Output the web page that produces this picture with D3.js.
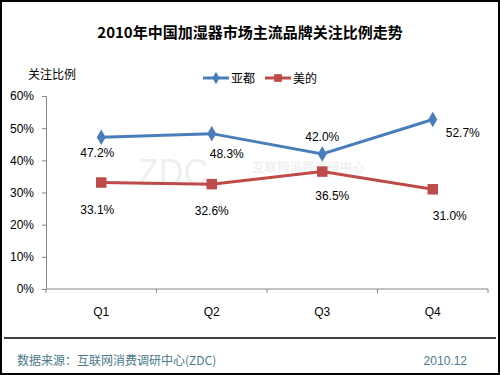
<!DOCTYPE html>
<html>
<head>
<meta charset="utf-8">
<script src="https://cdn.jsdelivr.net/npm/d3@7"></script>
<style>
  body { margin: 0; background: #fff; }
  svg { display: block; font-family: "Liberation Sans", Arial, "Noto Sans CJK SC", sans-serif; }
</style>
</head>
<body>
<div id="chart"></div>
<script>
// quarters and share of attention per brand (fraction)
const quarters = ["Q1", "Q2", "Q3", "Q4"];
const yadu = [0.472, 0.483, 0.420, 0.527];
const midea = [0.331, 0.326, 0.365, 0.310];
const seriesNames = ["亚都", "美的"];
const yTicks = [0, 0.1, 0.2, 0.3, 0.4, 0.5, 0.6];

const W = 500, H = 375;
const margin = { left: 46, right: 12, top: 96, bottom: 86 };

const svg = d3.select("#chart").append("svg").attr("width", W).attr("height", H);

svg.append("rect").attr("x", 1).attr("y", 1).attr("width", W - 2).attr("height", H - 2)
  .attr("fill", "#fff").attr("stroke", "#000").attr("stroke-width", 2);

svg.append("text").attr("x", 250).attr("y", 38).attr("text-anchor", "middle")
  .attr("font-size", 15).attr("font-weight", "bold")
  .attr("font-family", "'Noto Sans CJK SC', sans-serif")
  .text("2010年中国加湿器市场主流品牌关注比例走势");

const x = d3.scalePoint().domain(quarters).range([margin.left, W - margin.right]).padding(0.5);
const xBand = d3.scaleBand().domain(quarters).range([margin.left, W - margin.right]);
const y = d3.scaleLinear().domain([0, 0.6]).range([H - margin.bottom, margin.top]);

// faint watermark
svg.append("text").attr("x", 138).attr("y", 185).attr("font-size", 36)
  .attr("textLength", 70).attr("lengthAdjust", "spacingAndGlyphs")
  .attr("fill", "#000").attr("opacity", 0.06).attr("font-family", "'Liberation Sans', sans-serif")
  .text("ZDC");
svg.append("text").attr("x", 252).attr("y", 172).attr("font-size", 12.5).attr("font-weight", "bold")
  .attr("fill", "#000").attr("opacity", 0.06).attr("font-family", "'Noto Sans CJK SC', sans-serif")
  .text("互联网消费调研中心");

// y axis
const yAxis = svg.append("g").attr("transform", `translate(${margin.left},0)`)
  .call(d3.axisLeft(y).tickValues(yTicks).tickFormat(d3.format(".0%")).tickSize(4).tickPadding(8));
yAxis.select(".domain").attr("stroke", "#868686");
yAxis.selectAll(".tick line").attr("stroke", "#868686");
yAxis.selectAll("text").attr("font-size", 12).attr("fill", "#000")
  .attr("font-family", "'Liberation Sans', Arial, sans-serif");

// x axis with ticks at category boundaries
const xAxis = svg.append("g").attr("transform", `translate(0,${y(0)})`)
  .attr("font-family", "'Liberation Sans', Arial, sans-serif");
xAxis.append("line").attr("x1", margin.left).attr("x2", W - margin.right)
  .attr("stroke", "#868686");
xAxis.selectAll("line.b").data([...quarters.map(q => xBand(q)), W - margin.right]).join("line")
  .attr("class", "b").attr("x1", d => d).attr("x2", d => d).attr("y1", 0).attr("y2", 4)
  .attr("stroke", "#868686");
xAxis.selectAll("text").data(quarters).join("text")
  .attr("x", d => x(d)).attr("y", 27).attr("text-anchor", "middle")
  .attr("font-size", 12).text(d => d);

svg.append("text").attr("x", 28).attr("y", 79).attr("font-size", 12)
  .attr("font-family", "'Noto Sans CJK SC', sans-serif").text("关注比例");

const line = d3.line().x((d, i) => x(quarters[i])).y(d => y(d));
const colors = ["#4a7ebb", "#be4b48"];

// label offsets relative to point: [dx, dy]
const yaduOff = [[-4, 20], [15, 24], [0, -13], [30, 18]];
const mideaOff = [[-4, 31], [0, 31], [10, 28], [17, 31]];

function drawSeries(vals, color, symbolType, size, offs) {
  svg.append("path").datum(vals).attr("d", line).attr("fill", "none")
    .attr("stroke", color).attr("stroke-width", 3);
  svg.selectAll(null).data(vals).join("path")
    .attr("transform", (d, i) => `translate(${x(quarters[i])},${y(d)})`)
    .attr("d", d3.symbol().type(symbolType).size(size)).attr("fill", color);
  svg.selectAll(null).data(vals).join("text")
    .attr("x", (d, i) => x(quarters[i]) + offs[i][0])
    .attr("y", (d, i) => y(d) + offs[i][1])
    .attr("text-anchor", "middle").attr("font-size", 12)
    .attr("font-family", "'Liberation Sans', Arial, sans-serif")
    .text(d => d3.format(".1%")(d));
}
drawSeries(yadu, colors[0], d3.symbolDiamond, 70, yaduOff);
drawSeries(midea, colors[1], d3.symbolSquare, 110, mideaOff);

// legend
const legend = svg.append("g").attr("font-family", "'Noto Sans CJK SC', sans-serif");
const lx = [203, 265];
seriesNames.forEach((n, i) => {
  const g = legend.append("g").attr("transform", `translate(${lx[i]},78)`);
  g.append("line").attr("x1", 0).attr("x2", 26).attr("stroke", colors[i]).attr("stroke-width", 3);
  g.append("path").attr("transform", "translate(13,0)")
    .attr("d", d3.symbol().type(i === 0 ? d3.symbolDiamond : d3.symbolSquare).size(i === 0 ? 45 : 60))
    .attr("fill", colors[i]);
  g.append("text").attr("x", 28).attr("y", 5).attr("font-size", 12).text(n);
});

// footer
svg.append("line").attr("x1", 4).attr("x2", 496).attr("y1", 338).attr("y2", 338)
  .attr("stroke", "#000").attr("stroke-width", 1.5);
svg.append("text").attr("x", 17).attr("y", 365).attr("font-size", 12).attr("fill", "#4a7a8c")
  .attr("font-family", "'Noto Sans CJK SC', sans-serif").text("数据来源：互联网消费调研中心(ZDC)");
svg.append("text").attr("x", 467).attr("y", 365).attr("font-size", 12).attr("fill", "#4a7a8c")
  .attr("text-anchor", "end").text("2010.12");
</script>
</body>
</html>
